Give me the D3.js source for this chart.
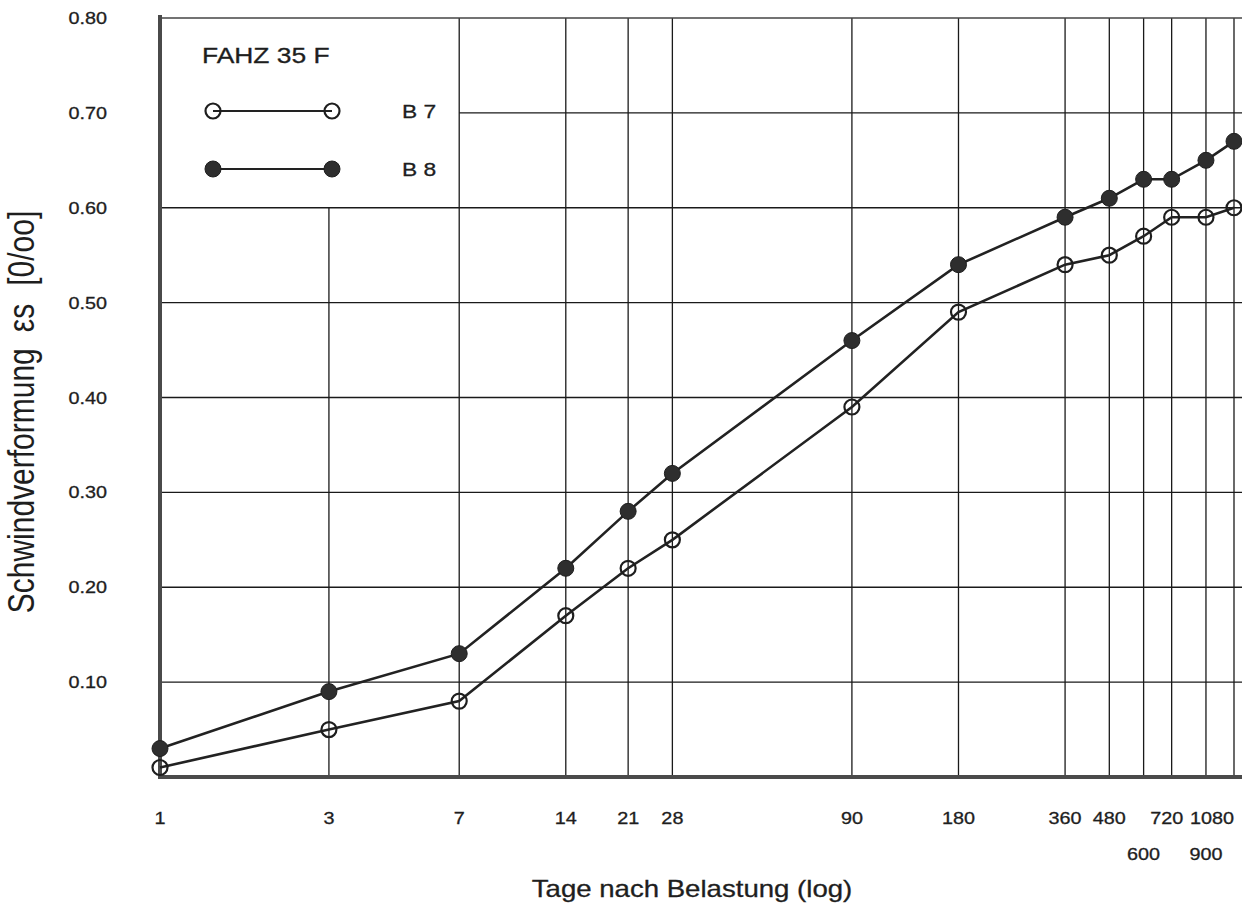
<!DOCTYPE html>
<html>
<head>
<meta charset="utf-8">
<script src="https://cdn.jsdelivr.net/npm/d3@7"></script>
<style>
  html, body { margin: 0; padding: 0; background: #fff; }
  svg { display: block; }
  text { font-family: "Liberation Sans", Arial, Helvetica, sans-serif; fill: #1e1e1e; }
</style>
</head>
<body>
<svg id="chart" width="1242" height="909"></svg>
<script>
// ---- data ----
const days = [1, 3, 7, 14, 21, 28, 90, 180, 360, 480, 600, 720, 900, 1080];
const b7 = [0.01, 0.05, 0.08, 0.17, 0.22, 0.25, 0.39, 0.49, 0.54, 0.55, 0.57, 0.59, 0.59, 0.60];
const b8 = [0.03, 0.09, 0.13, 0.22, 0.28, 0.32, 0.46, 0.54, 0.59, 0.61, 0.63, 0.63, 0.65, 0.67];
const yTicks = [0.10, 0.20, 0.30, 0.40, 0.50, 0.60, 0.70, 0.80];
const yTickLabels = ["0.10", "0.20", "0.30", "0.40", "0.50", "0.60", "0.70", "0.80"];
const xLabelsRow1 = [1, 3, 7, 14, 21, 28, 90, 180, 360, 480, 720, 1080];
const xLabelsRow2 = [600, 900];
const legendTitle = "FAHZ 35 F";
const seriesNames = ["B 7", "B 8"];
const xTitle = "Tage nach Belastung (log)";

// ---- layout ----
const svg = d3.select("#chart");
const pLeft = 160, pRight = 1234, pTop = 18, pBottom = 777, pEdge = 1242;
const x = d3.scaleLog().domain([1, 1080]).range([pLeft, pRight]);
const y = d3.scaleLinear().domain([0, 0.8]).range([pBottom, pTop]);
const SX = 1.2; // horizontal stretch of the scanned lettering

function stext(sel, px, py, str, size, anchor) {
  return sel.append("text")
    .attr("transform", `translate(${px},${py}) scale(${SX},1)`)
    .attr("text-anchor", anchor || "middle")
    .style("font-size", size + "px")
    .style("stroke", "#1e1e1e").style("stroke-width", 0.3)
    .text(str);
}

const grid = svg.append("g").attr("stroke", "#1a1a1a").attr("stroke-width", 1.3).attr("fill", "none");
// vertical grid lines
days.forEach(d => {
  if (d === 1) return;
  const gx = x(d);
  const y0 = gx < 455 ? y(0.6) : y(0.8);
  grid.append("line").attr("x1", gx).attr("x2", gx).attr("y1", y0).attr("y2", pBottom);
});
// horizontal grid lines
yTicks.forEach(v => {
  const x0 = (v > 0.6 && v < 0.8) ? x(7) : pLeft;
  grid.append("line").attr("x1", x0).attr("x2", pEdge).attr("y1", y(v)).attr("y2", y(v))
    .attr("stroke", v === 0.8 ? "#444" : "#1a1a1a");
});

// axes (thick gray lines)
svg.append("line").attr("x1", pLeft).attr("x2", pLeft).attr("y1", pTop - 3).attr("y2", pBottom + 2)
  .attr("stroke", "#4a4a4a").attr("stroke-width", 4);
svg.append("line").attr("x1", pLeft - 2).attr("x2", pEdge).attr("y1", pBottom).attr("y2", pBottom)
  .attr("stroke", "#4a4a4a").attr("stroke-width", 4);

// y tick labels
yTicks.forEach((v, i) => {
  stext(svg, 107, y(v) + 6, yTickLabels[i], 16.5, "end");
});

// x tick labels
xLabelsRow1.forEach(d => {
  let px = x(d), anchor = "middle";
  if (d === 1080) { px = pRight; anchor = "end"; }
  if (d === 720) px -= 5;
  stext(svg, px, 824, String(d), 16.5, anchor);
});
xLabelsRow2.forEach(d => {
  stext(svg, x(d), 860, String(d), 16.5, "middle");
});

// axis titles
stext(svg, 692, 897, xTitle, 23, "middle");
const yt = svg.append("text")
  .attr("transform", `translate(34,412) rotate(-90) scale(1,${SX})`)
  .attr("text-anchor", "middle")
  .style("font-size", "30px");
yt.append("tspan").text("Schwindverformung");
yt.append("tspan").attr("dx", 16).text("εs");
yt.append("tspan").attr("dx", 18).text("[0/oo]");

// series lines
const line = d3.line().x(d => x(d[0])).y(d => y(d[1]));
const s7 = days.map((d, i) => [d, b7[i]]);
const s8 = days.map((d, i) => [d, b8[i]]);
svg.append("path").datum(s7).attr("d", line).attr("fill", "none").attr("stroke", "#222").attr("stroke-width", 2.6);
svg.append("path").datum(s8).attr("d", line).attr("fill", "none").attr("stroke", "#222").attr("stroke-width", 2.6);

// markers
svg.append("g").selectAll("circle").data(s7).join("circle")
  .attr("cx", d => x(d[0])).attr("cy", d => y(d[1])).attr("r", 7.5)
  .attr("fill", "none").attr("stroke", "#1e1e1e").attr("stroke-width", 2.2);
svg.append("g").selectAll("circle").data(s8).join("circle")
  .attr("cx", d => x(d[0])).attr("cy", d => y(d[1])).attr("r", 8)
  .attr("fill", "#2e2e2e").attr("stroke", "#1e1e1e").attr("stroke-width", 1);

// legend
stext(svg, 202, 63, legendTitle, 22, "start");
const lg = svg.append("g");
const legY = [111, 169];
legY.forEach((ly, i) => {
  lg.append("line").attr("x1", 213).attr("x2", 332).attr("y1", ly).attr("y2", ly)
    .attr("stroke", "#222").attr("stroke-width", 2);
  [213, 332].forEach(cx => {
    lg.append("circle").attr("cx", cx).attr("cy", ly).attr("r", i === 0 ? 7.5 : 8)
      .attr("fill", i === 0 ? "none" : "#2e2e2e").attr("stroke", "#1e1e1e").attr("stroke-width", i === 0 ? 2.2 : 1);
  });
  stext(lg, 402, ly + 7, seriesNames[i], 19, "start");
});
</script>
</body>
</html>
